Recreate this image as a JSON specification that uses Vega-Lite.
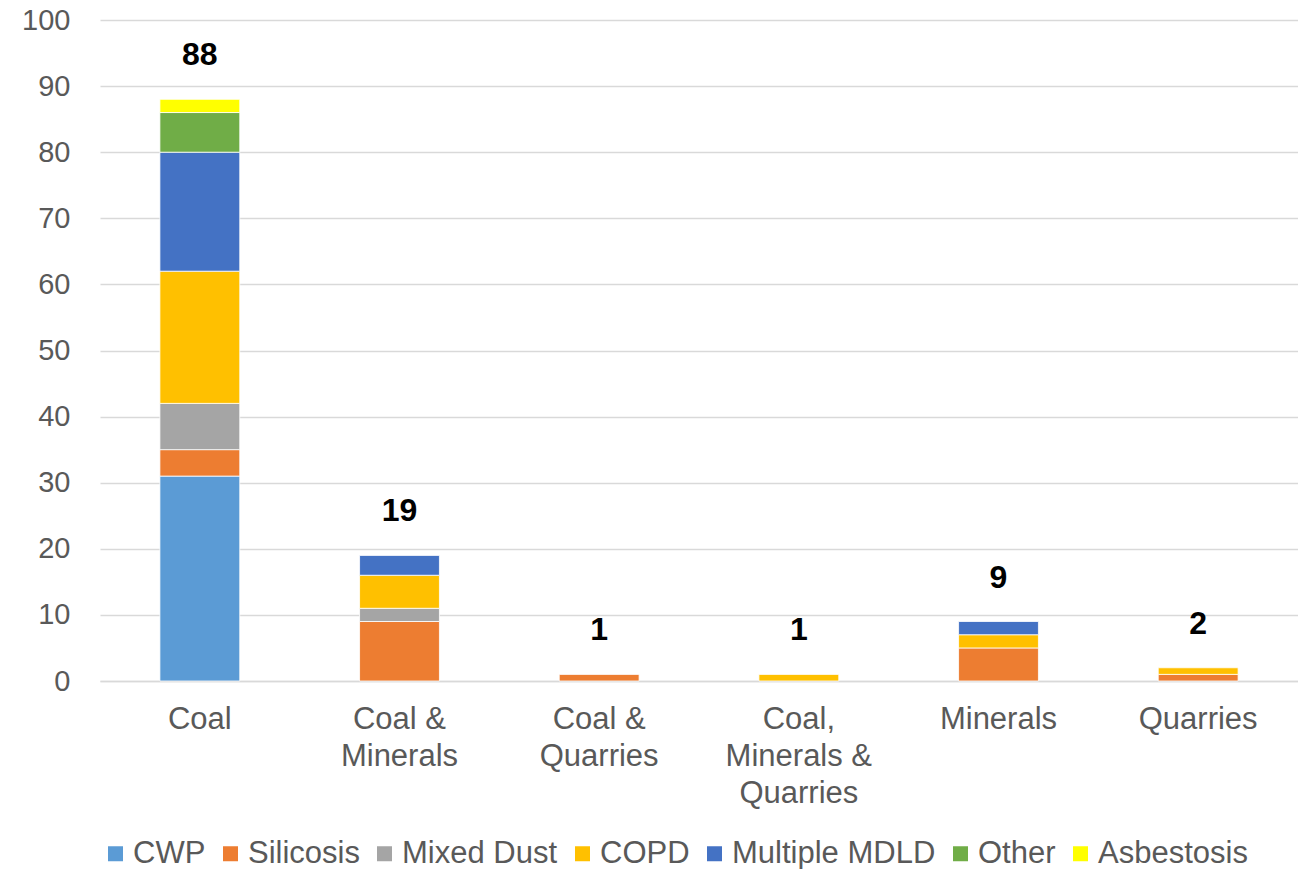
{
  "$schema": "https://vega.github.io/schema/vega-lite/v6.json",
  "width": 1198,
  "height": 661,
  "autosize": {"type": "none"},
  "padding": {"left": 100, "top": 20, "right": 0, "bottom": 188},
  "background": "white",
  "config": {
    "font": "Liberation Sans",
    "view": {"stroke": null},
    "axis": {"labelFont": "Liberation Sans", "labelColor": "#595959", "labelFontSize": 29}
  },
  "datasets": {
    "diseases": [
      {"disease": "CWP", "rank": 1},
      {"disease": "Silicosis", "rank": 2},
      {"disease": "Mixed Dust", "rank": 3},
      {"disease": "COPD", "rank": 4},
      {"disease": "Multiple MDLD", "rank": 5},
      {"disease": "Other", "rank": 6},
      {"disease": "Asbestosis", "rank": 7}
    ],
    "cases": [
      {"category": "Coal", "disease": "CWP", "value": 31},
      {"category": "Coal", "disease": "Silicosis", "value": 4},
      {"category": "Coal", "disease": "Mixed Dust", "value": 7},
      {"category": "Coal", "disease": "COPD", "value": 20},
      {"category": "Coal", "disease": "Multiple MDLD", "value": 18},
      {"category": "Coal", "disease": "Other", "value": 6},
      {"category": "Coal", "disease": "Asbestosis", "value": 2},
      {"category": "Coal & Minerals", "disease": "Silicosis", "value": 9},
      {"category": "Coal & Minerals", "disease": "Mixed Dust", "value": 2},
      {"category": "Coal & Minerals", "disease": "COPD", "value": 5},
      {"category": "Coal & Minerals", "disease": "Multiple MDLD", "value": 3},
      {"category": "Coal & Quarries", "disease": "Silicosis", "value": 1},
      {"category": "Coal, Minerals & Quarries", "disease": "COPD", "value": 1},
      {"category": "Minerals", "disease": "Silicosis", "value": 5},
      {"category": "Minerals", "disease": "COPD", "value": 2},
      {"category": "Minerals", "disease": "Multiple MDLD", "value": 2},
      {"category": "Quarries", "disease": "Silicosis", "value": 1},
      {"category": "Quarries", "disease": "COPD", "value": 1}
    ]
  },
  "data": {"name": "cases"},
  "encoding": {
    "x": {
      "field": "category",
      "type": "nominal",
      "sort": ["Coal", "Coal & Minerals", "Coal & Quarries", "Coal, Minerals & Quarries", "Minerals", "Quarries"],
      "scale": {"paddingInner": 0.6, "paddingOuter": 0.3},
      "axis": {
        "title": null,
        "labelAngle": 0,
        "labelExpr": "datum.label == 'Coal & Minerals' ? ['Coal &', 'Minerals'] : datum.label == 'Coal & Quarries' ? ['Coal &', 'Quarries'] : datum.label == 'Coal, Minerals & Quarries' ? ['Coal,', 'Minerals &', 'Quarries'] : datum.label",
        "labelFontSize": 31,
        "labelLineHeight": 37,
        "labelPadding": 38,
        "labelBaseline": "middle",
        "ticks": false,
        "domainColor": "#D9D9D9",
        "domainWidth": 1.5,
        "grid": false
      }
    }
  },
  "layer": [
    {
      "transform": [
        {"lookup": "disease", "from": {"data": {"name": "diseases"}, "key": "disease", "fields": ["rank"]}}
      ],
      "mark": {"type": "bar", "stroke": "white", "strokeWidth": 0.8},
      "encoding": {
        "y": {
          "field": "value",
          "type": "quantitative",
          "stack": "zero",
          "scale": {"domain": [0, 100]},
          "axis": {
            "title": null,
            "values": [0, 10, 20, 30, 40, 50, 60, 70, 80, 90, 100],
            "domain": false,
            "ticks": false,
            "labelPadding": 30,
            "gridColor": "#D9D9D9",
            "gridWidth": 1.5
          }
        },
        "order": {"field": "rank", "type": "quantitative", "sort": "ascending"},
        "color": {
          "field": "disease",
          "type": "nominal",
          "sort": ["CWP", "Silicosis", "Mixed Dust", "COPD", "Multiple MDLD", "Other", "Asbestosis"],
          "scale": {
            "domain": ["CWP", "Silicosis", "Mixed Dust", "COPD", "Multiple MDLD", "Other", "Asbestosis"],
            "range": ["#5B9BD5", "#ED7D31", "#A5A5A5", "#FFC000", "#4472C4", "#70AD47", "#FFFF00"]
          },
          "legend": {
            "title": null,
            "orient": "bottom",
            "direction": "horizontal",
            "offset": 30,
            "symbolType": "square",
            "symbolSize": 225,
            "symbolStrokeWidth": 0,
            "labelFontSize": 31,
            "labelLimit": 400,
            "labelColor": "#595959",
            "labelFont": "Liberation Sans",
            "columnPadding": 9,
            "labelOffset": 2
          }
        }
      }
    },
    {
      "mark": {"type": "text", "dy": -44, "fontSize": 32, "fontWeight": "bold", "color": "black", "font": "Liberation Sans"},
      "encoding": {
        "y": {"field": "value", "type": "quantitative", "aggregate": "sum"},
        "text": {"field": "value", "type": "quantitative", "aggregate": "sum"}
      }
    }
  ]
}
